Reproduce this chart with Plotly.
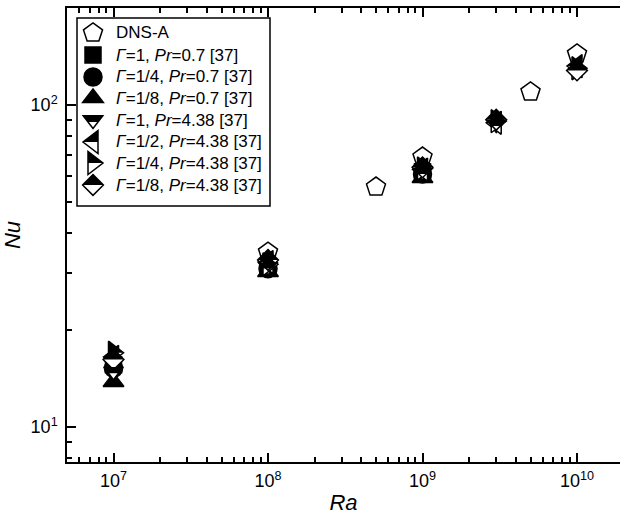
import math
import plotly.graph_objects as go

# ---------------- data ----------------
legend_labels = [
    "DNS-A",
    "<i>Γ</i>=1, <i>Pr</i>=0.7 [37]",
    "<i>Γ</i>=1/4, <i>Pr</i>=0.7 [37]",
    "<i>Γ</i>=1/8, <i>Pr</i>=0.7 [37]",
    "<i>Γ</i>=1, <i>Pr</i>=4.38 [37]",
    "<i>Γ</i>=1/2, <i>Pr</i>=4.38 [37]",
    "<i>Γ</i>=1/4, <i>Pr</i>=4.38 [37]",
    "<i>Γ</i>=1/8, <i>Pr</i>=4.38 [37]",
]

ra_dns_a = [1e8, 5e8, 1e9, 5e9, 1e10]
nu_dns_a = [34.9, 55.6, 68.9, 109.7, 144.0]

ra_pr07 = [1e7, 1e8, 1e9]
nu_g1_pr07 = [15.6, 31.5, 62.0]
nu_g14_pr07 = [15.2, 31.0, 61.0]
nu_g18_pr07 = [13.8, 30.3, 59.3]

ra_g1_pr438 = [1e7, 1e8, 1e9, 3e9]
nu_g1_pr438 = [14.9, 31.5, 62.0, 87.3]

ra_pr438 = [1e7, 1e8, 1e9, 3e9, 1e10]
nu_g12_pr438 = [16.5, 32.5, 63.0, 88.0, 132.0]
nu_g14_pr438 = [17.0, 32.0, 63.5, 89.0, 130.0]
nu_g18_pr438 = [16.2, 33.0, 64.0, 90.0, 128.0]

x_tick_values = [1e7, 1e8, 1e9, 1e10]
x_tick_labels = ["10<sup>7</sup>", "10<sup>8</sup>", "10<sup>9</sup>", "10<sup>10</sup>"]
y_tick_values = [1e1, 1e2]
y_tick_labels = ["10<sup>1</sup>", "10<sup>2</sup>"]

# (x, y, symbol, size, fill, upper half black)
series = [
    (ra_dns_a, nu_dns_a, "pentagon", 20, "white", False),
    (ra_pr07, nu_g1_pr07, "square", 16, "black", False),
    (ra_pr07, nu_g14_pr07, "circle", 18, "black", False),
    (ra_pr07, nu_g18_pr07, "triangle-up", 18, "black", False),
    (ra_g1_pr438, nu_g1_pr438, "triangle-down", 17, "white", True),
    (ra_pr438, nu_g12_pr438, "triangle-left", 20, "white", True),
    (ra_pr438, nu_g14_pr438, "triangle-right", 20, "white", True),
    (ra_pr438, nu_g18_pr438, "diamond", 16, "white", True),
]

# ---------------- geometry ----------------
W, H = 620, 522
ML, MR, MT, MB = 67, 0, 8, 60
PW, PH = W - ML - MR, H - MT - MB
FONT = "Liberation Sans, Arial, sans-serif"
LW = 1.5


def px(xp):
    return (xp - ML) / PW


def py(yp):
    return (H - MB - yp) / PH


def poly(pts):
    # points given with y pointing down (marker convention); shape pixel paths use y up
    s = "M%.2f,%.2f" % (pts[0][0], -pts[0][1])
    for x, y in pts[1:]:
        s += " L%.2f,%.2f" % (x, -y)
    return s + " Z"


def full_outline(symbol, size):
    r = size / 2.0
    rt = r * 2 / math.sqrt(3)
    r2 = r / 2.0
    rd = r * 1.3
    if symbol == "square":
        return poly([(r, r), (-r, r), (-r, -r), (r, -r)])
    if symbol == "triangle-up":
        return poly([(-rt, r2), (rt, r2), (0, -r)])
    if symbol == "triangle-down":
        return poly([(-rt, -r2), (rt, -r2), (0, r)])
    if symbol == "triangle-left":
        return poly([(r2, -rt), (r2, rt), (-r, 0)])
    if symbol == "triangle-right":
        return poly([(-r2, -rt), (-r2, rt), (r, 0)])
    if symbol == "diamond":
        return poly([(rd, 0), (0, rd), (-rd, 0), (0, -rd)])
    if symbol == "pentagon":
        return poly([(0.951 * r, -0.309 * r), (0.588 * r, 0.809 * r),
                     (-0.588 * r, 0.809 * r), (-0.951 * r, -0.309 * r), (0, -r)])
    return None


def upper_half(symbol, size):
    r = size / 2.0
    rt = r * 2 / math.sqrt(3)
    r2 = r / 2.0
    rd = r * 1.3
    if symbol == "triangle-down":
        return poly([(-rt, -r2), (rt, -r2), (rt / 2, r / 4), (-rt / 2, r / 4)])
    if symbol == "triangle-left":
        return poly([(r2, -rt), (r2, 0), (-r, 0)])
    if symbol == "triangle-right":
        return poly([(-r2, -rt), (-r2, 0), (r, 0)])
    if symbol == "diamond":
        return poly([(rd, 0), (0, -rd), (-rd, 0)])
    return None


fig = go.Figure()
shapes = []
annotations = []

for xs, ys, sym, size, fill, half in series:
    fig.add_trace(go.Scatter(
        x=xs, y=ys, mode="markers", showlegend=False,
        marker=dict(symbol=sym, size=size, color=fill,
                    line=dict(color="black", width=LW)),
    ))
    if half:
        for xv, yv in zip(xs, ys):
            shapes.append(dict(
                type="path", xref="x", yref="y",
                xsizemode="pixel", ysizemode="pixel",
                xanchor=xv, yanchor=yv, path=upper_half(sym, size),
                fillcolor="black", line=dict(width=0), layer="above",
            ))

# ---------------- legend ----------------
shapes.append(dict(
    type="rect", xref="paper", yref="paper",
    x0=px(77), x1=px(270), y0=py(206), y1=py(18),
    line=dict(color="black", width=LW), fillcolor="white", layer="above",
))

row_y = [33, 55, 77, 98, 120, 142, 163, 185]
sym_x = 93
text_x = 114
for (xs, ys, sym, size, fill, half), label, ry in zip(series, legend_labels, row_y):
    common = dict(xref="paper", yref="paper", xsizemode="pixel", ysizemode="pixel",
                  xanchor=px(sym_x), yanchor=py(ry), layer="above")
    if sym == "circle":
        r = size / 2.0
        shapes.append(dict(type="circle", x0=-r, x1=r, y0=-r, y1=r,
                           fillcolor=fill, line=dict(color="black", width=LW), **common))
    else:
        shapes.append(dict(type="path", path=full_outline(sym, size),
                           fillcolor=fill, line=dict(color="black", width=LW), **common))
    if half:
        shapes.append(dict(type="path", path=upper_half(sym, size),
                           fillcolor="black", line=dict(width=0), **common))
    annotations.append(dict(
        x=px(text_x), y=py(ry), xref="paper", yref="paper",
        xanchor="left", yanchor="middle", showarrow=False,
        text=label, font=dict(family=FONT, size=17, color="black"),
    ))

x_range = [math.log10(5e6), math.log10(5e6) + PW / 154.5]
y_range = [math.log10(200) - PH / 322.0, math.log10(200)]

axis_common = dict(
    type="log",
    ticks="inside", ticklen=9, tickwidth=LW, tickcolor="black",
    minor=dict(dtick="D1", ticks="inside", ticklen=5, tickwidth=LW, tickcolor="black"),
    showgrid=False, zeroline=False,
    tickfont=dict(family=FONT, size=18, color="black"),
)

fig.update_layout(
    width=W, height=H,
    margin=dict(l=ML, r=MR, t=MT, b=MB),
    paper_bgcolor="white", plot_bgcolor="white",
    showlegend=False,
    xaxis=dict(range=x_range, showline=True, linecolor="black", linewidth=LW,
               mirror="ticks", ticklabelstandoff=2,
               tickmode="array", tickvals=x_tick_values, ticktext=x_tick_labels,
               title=dict(text="<i>Ra</i>", font=dict(family=FONT, size=22, color="black"),
                          standoff=4),
               **axis_common),
    yaxis=dict(range=y_range, showline=True, linecolor="black", linewidth=LW,
               mirror=False, ticklabelstandoff=4,
               tickmode="array", tickvals=y_tick_values, ticktext=y_tick_labels,
               title=dict(text="<i>Nu</i>", font=dict(family=FONT, size=22, color="black"),
                          standoff=8),
               **axis_common),
    yaxis2=dict(range=y_range, overlaying="y", side="right", anchor="x",
                showline=False, showticklabels=False,
                tickmode="array", tickvals=y_tick_values, **axis_common),
    shapes=shapes,
    annotations=annotations,
)

fig.write_html("out.html")
